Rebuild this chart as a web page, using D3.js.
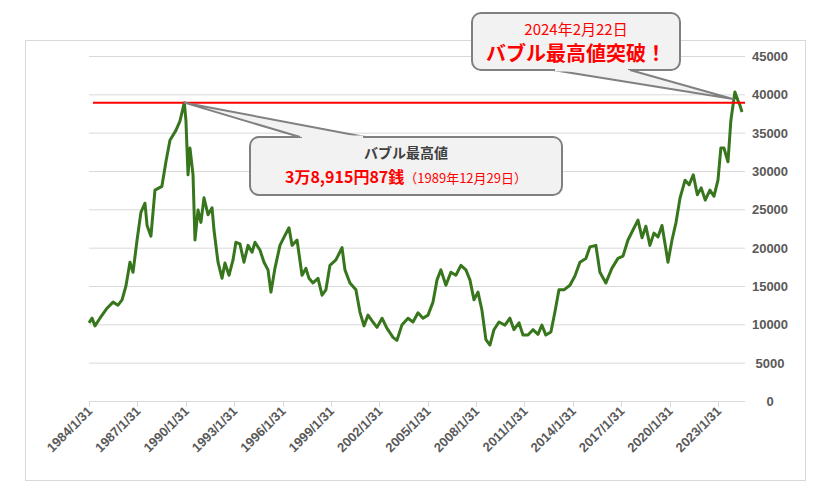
<!DOCTYPE html><html><head><meta charset="utf-8"><script src="https://cdn.jsdelivr.net/npm/d3@7"></script>
<style>body{margin:0;background:#fff}</style></head><body><svg id="c" width="831" height="490"></svg>
<script>
const years=[1984.08,1984.27,1984.45,1984.76,1985.2,1985.57,1985.88,1986.13,1986.37,1986.62,1986.81,1987.06,1987.3,1987.55,1987.68,1987.92,1988.17,1988.6,1988.85,1989.1,1989.47,1989.72,1989.99,1990.09,1990.22,1990.34,1990.53,1990.65,1990.84,1991.02,1991.21,1991.46,1991.71,1991.83,1992.08,1992.33,1992.51,1992.76,1993.01,1993.19,1993.44,1993.69,1993.94,1994.19,1994.37,1994.68,1994.93,1995.18,1995.36,1995.61,1995.92,1996.23,1996.48,1996.67,1996.98,1997.29,1997.53,1997.72,1997.97,1998.28,1998.53,1998.77,1999.02,1999.39,1999.77,1999.95,2000.26,2000.63,2000.88,2001.13,2001.38,2001.69,2001.94,2002.25,2002.55,2002.93,2003.17,2003.48,2003.86,2004.17,2004.48,2004.79,2005.1,2005.41,2005.66,2005.9,2006.21,2006.52,2006.83,2007.14,2007.45,2007.7,2007.95,2008.2,2008.44,2008.69,2008.94,2009.19,2009.5,2009.87,2010.18,2010.43,2010.74,2010.99,2011.3,2011.61,2011.92,2012.16,2012.41,2012.72,2012.97,2013.22,2013.53,2013.9,2014.21,2014.52,2014.89,2015.14,2015.51,2015.76,2016.13,2016.5,2016.88,2017.19,2017.5,2017.81,2018.12,2018.37,2018.61,2018.86,2019.11,2019.36,2019.61,2019.86,2019.98,2020.23,2020.48,2020.73,2021.04,2021.29,2021.55,2021.8,2022.04,2022.29,2022.58,2022.83,2023.08,2023.26,2023.45,2023.7,2023.88,2024.13,2024.32,2024.44,2024.57];
const values=[10200,10800,9800,10800,12100,12900,12500,13200,15000,18100,16800,21000,24600,25800,22900,21500,27500,28000,31200,34000,35300,36500,38915,36600,29500,33000,29500,21000,24900,23300,26500,24300,25200,22300,18100,16000,18000,16400,18400,20700,20500,18100,20300,19400,20700,19700,18100,17100,14200,17300,20300,21600,22600,20300,21000,16400,17300,16000,15400,16000,13800,14500,17700,18400,20000,17100,15400,14500,11600,9800,11200,10300,9600,10800,9500,8300,7900,9900,10800,10300,11500,10800,11200,12900,15800,17100,15100,16800,16400,17700,17100,15800,13200,14200,11900,8000,7300,9300,10300,9900,10800,9300,10200,8600,8600,9300,8700,9900,8600,9000,11600,14500,14500,15100,16300,18100,18600,20100,20300,16800,15400,17300,18600,18900,21000,22300,23600,21300,22800,20300,21900,21400,22900,19700,18100,21000,23300,26500,28800,28200,29500,26900,27800,26200,27500,26700,28800,33000,33000,31200,36600,40300,39200,38600,37700];
const tickYears=[1984,1987,1990,1993,1996,1999,2002,2005,2008,2011,2014,2017,2020,2023];
const yTicks=[0,5000,10000,15000,20000,25000,30000,35000,40000,45000];
const bubbleHigh=38915;
const callout1=["バブル最高値","3万8,915円87銭","（1989年12月29日）"];
const callout2=["2024年2月22日","バブル最高値突破！"];
const svg=d3.select("#c");
const x=d3.scaleLinear().domain([1984.08,2024.57]).range([89,742]);
const y=d3.scaleLinear().domain([0,45000]).range([401,56]);
const F="'Liberation Sans',Arial,sans-serif";
const J="'Noto Sans CJK JP',sans-serif";
svg.append("rect").attr("x",25.5).attr("y",40.5).attr("width",780).attr("height",440).attr("fill","#fff").attr("stroke","#d9d9d9");
svg.append("g").selectAll("line").data(yTicks).join("line").attr("x1",89).attr("x2",745).attr("y1",d=>y(d)+.5).attr("y2",d=>y(d)+.5).attr("stroke","#d9d9d9");
svg.append("g").selectAll("text").data(yTicks).join("text").attr("x",770).attr("y",d=>y(d)+5).attr("text-anchor","middle").attr("font-family",F).attr("font-weight","bold").attr("font-size",13).attr("fill","#595959").text(d=>d);
const xt=tickYears.map(t=>t+1/12);
svg.append("g").selectAll("line").data(xt).join("line").attr("x1",d=>Math.round(x(d))+.5).attr("x2",d=>Math.round(x(d))+.5).attr("y1",401).attr("y2",407).attr("stroke","#d9d9d9");
svg.append("g").selectAll("text").data(tickYears).join("text").attr("transform",(d,i)=>`translate(${x(xt[i])+4},${412}) rotate(-45)`).attr("text-anchor","end").attr("font-family",F).attr("font-weight","bold").attr("font-size",13).attr("fill","#595959").text(d=>d+"/1/31");
svg.append("path").datum(years.map((d,i)=>[d,values[i]])).attr("d",d3.line().x(d=>x(d[0])).y(d=>y(d[1]))).attr("fill","none").attr("stroke","#38761d").attr("stroke-width",3).attr("stroke-linejoin","round");
svg.append("line").attr("x1",93).attr("x2",745).attr("y1",y(bubbleHigh)).attr("y2",y(bubbleHigh)).attr("stroke","#ff0000").attr("stroke-width",2);
function callout(bx,by,bw,bh,p1,p2,tx,ty){
  const ey=by+(ty>by?bh:0);
  svg.append("rect").attr("x",bx).attr("y",by).attr("width",bw).attr("height",bh).attr("rx",9).attr("fill","#f2f2f2").attr("stroke","#808080").attr("stroke-width",2);
  svg.append("path").attr("d",`M${p1},${ey} L${tx},${ty} L${p2},${ey}`).attr("fill","#f2f2f2").attr("stroke","#808080").attr("stroke-width",2).attr("stroke-linejoin","round");
  svg.append("line").attr("x1",p1+2).attr("x2",p2-2).attr("y1",ey).attr("y2",ey).attr("stroke","#f2f2f2").attr("stroke-width",3);
}
callout(250,137,312,58,300,365,x(1989.99),y(bubbleHigh));
callout(472,13,208,57,553,630,x(2024.13)-2,y(39400));
svg.append("text").attr("x",406).attr("y",158).attr("text-anchor","middle").attr("font-family",J).attr("font-weight","bold").attr("font-size",14).attr("fill","#404040").text(callout1[0]);
const t2=svg.append("text").attr("x",406).attr("y",183).attr("text-anchor","middle").attr("font-family",J).attr("fill","#ff0000");
t2.append("tspan").attr("font-size",16).attr("font-weight","bold").text(callout1[1]);
t2.append("tspan").attr("font-size",13).text(callout1[2]);
svg.append("text").attr("x",576).attr("y",35).attr("text-anchor","middle").attr("font-family",J).attr("font-size",15).attr("fill","#ff0000").text(callout2[0]);
svg.append("text").attr("x",576).attr("y",61).attr("text-anchor","middle").attr("font-family",J).attr("font-weight","bold").attr("font-size",20).attr("fill","#ff0000").text(callout2[1]);
</script></body></html>
